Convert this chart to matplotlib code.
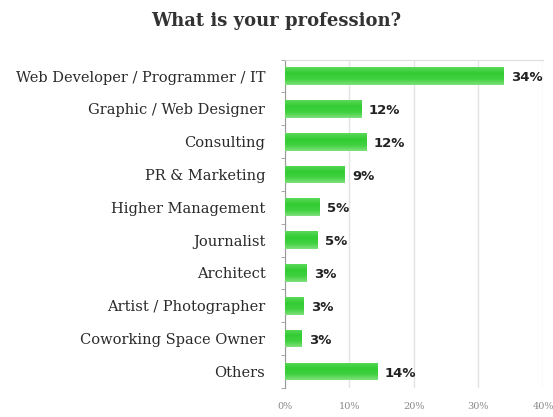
import numpy as np
import matplotlib
matplotlib.use("Agg")
import matplotlib.pyplot as plt
from matplotlib.colors import LinearSegmentedColormap

# dados
categorias = [
    "Web Developer / Programmer / IT",
    "Graphic / Web Designer",
    "Consulting",
    "PR & Marketing",
    "Higher Management",
    "Journalist",
    "Architect",
    "Artist / Photographer",
    "Coworking Space Owner",
    "Others",
]
valores = [33.8, 11.8, 12.6, 9.2, 5.4, 5.1, 3.4, 2.8, 2.6, 14.3]
rotulos = ["34%", "12%", "12%", "9%", "5%", "5%", "3%", "3%", "3%", "14%"]
ticks_x = [0, 10, 20, 30, 40]
ticks_x_txt = ["0%", "10%", "20%", "30%", "40%"]

fig = plt.figure(figsize=(5.53, 4.17), dpi=100)
ax = fig.add_axes([0.515, 0.07, 0.467, 0.787])

y = np.arange(len(categorias))
altura = 0.54

# degrade verde (topo mais claro, meio saturado, base clara)
cmap = LinearSegmentedColormap.from_list(
    "verde", ["#5ad95a", "#33cc33", "#3fd13f", "#7fe07a"])
grad = np.linspace(0, 1, 64).reshape(-1, 1)

barras = ax.barh(y, valores, height=altura, color="#3ccf3c", zorder=2)
for b in barras:
    x0, y0 = b.get_x(), b.get_y()
    w, h = b.get_width(), b.get_height()
    im = ax.imshow(grad, cmap=cmap, aspect="auto", zorder=3,
                   extent=[x0, x0 + w, y0 + h, y0], origin="upper")
    im.set_clip_path(b)

for yi, v, t in zip(y, valores, rotulos):
    ax.text(v + 1.2, yi + 0.05, t, va="center", ha="left",
            fontsize=9.5, fontweight="bold", color="#222222",
            family="DejaVu Sans")

ax.set_xlim(0, 40)
ax.set_ylim(len(categorias) - 0.5, -0.5)

ax.set_yticks(y)
ax.set_yticklabels(categorias, family="DejaVu Serif", fontsize=10.5,
                   color="#2a2a2a")
ax.set_yticks(np.arange(-0.5, len(categorias), 1), minor=True)
ax.tick_params(axis="y", which="major", length=0, pad=14)
ax.tick_params(axis="y", which="minor", length=3, color="#999999")

ax.set_xticks(ticks_x)
ax.set_xticklabels(ticks_x_txt, family="DejaVu Serif", fontsize=7,
                   color="#888888")
ax.tick_params(axis="x", length=0, pad=10)

ax.grid(axis="x", color="#e3e3e3", linewidth=1, zorder=0)
for s in ["right", "bottom"]:
    ax.spines[s].set_visible(False)
ax.spines["top"].set_color("#dddddd")
ax.spines["left"].set_color("#999999")

fig.text(0.5, 0.95, "What is your profession?", ha="center", va="center",
         family="DejaVu Serif", fontweight="bold", fontsize=13,
         color="#333333")

plt.savefig("out.png", dpi=100)
